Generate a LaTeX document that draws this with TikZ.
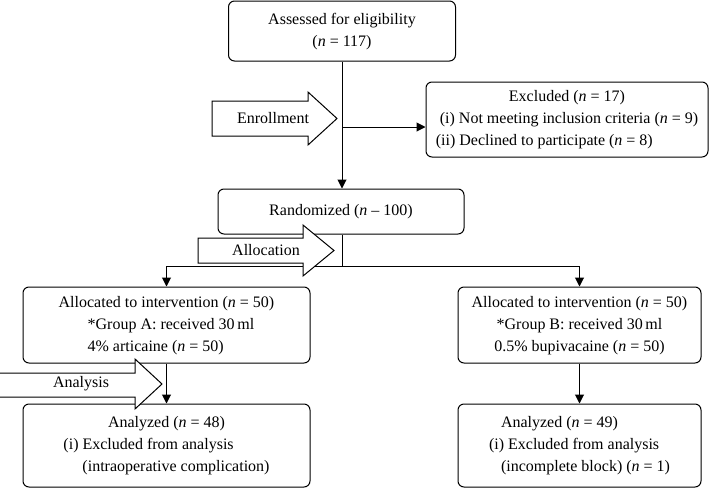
\documentclass[tikz,border=0pt]{standalone}
\usepackage{fontspec}
\setmainfont{Liberation Serif}
\usetikzlibrary{arrows.meta}
\tikzset{
  box/.style={draw, line width=1pt, rounded corners=6pt, inner sep=0pt, fill=white,
    font=\fontsize{16}{22}\selectfont},
  conn/.style={line width=1pt},
  arr/.style={line width=1pt, -{Triangle[length=9pt,width=9pt]}},
  bigarrow/.style={draw, line width=1pt, fill=white, line join=miter},
  arrowlabel/.style={font=\fontsize{16}{22}\selectfont, inner sep=0pt},
}
\begin{document}
\begin{tikzpicture}[x=1pt,y=-1pt]
\useasboundingbox (0,0) rectangle (710,488);

% boxes
\node[box, minimum width=227pt, minimum height=60pt] (assess) at (342,31)
  {\begin{tabular}{@{}c@{}}Assessed for eligibility\\(\textit{n} = 117)\end{tabular}};
\node[box, minimum width=282pt, minimum height=75pt] (excl) at (567,119.5)
  {\begin{tabular}{@{}l@{}}\multicolumn{1}{@{}c@{}}{Excluded (\textit{n} = 17)}\\
   \hspace*{4pt}(i) Not meeting inclusion criteria (\textit{n} = 9)\\
   (ii) Declined to participate (\textit{n} = 8)\end{tabular}};
\node[box, minimum width=246pt, minimum height=45pt] (rand) at (341,211.5)
  {\begin{tabular}{@{}c@{}}Randomized (\textit{n} – 100)\end{tabular}};
\node[box, minimum width=287pt, minimum height=76pt] (allocA) at (166.5,325)
  {\begin{tabular}{@{}l@{}}Allocated to intervention (\textit{n} = 50)\\
   \hspace*{29pt}{*}Group A: received 30\,ml\\
   \hspace*{29pt}4\% articaine (\textit{n} = 50)\end{tabular}};
\node[box, minimum width=243pt, minimum height=76pt] (allocB) at (579.5,325)
  {\begin{tabular}{@{}c@{}}Allocated to intervention (\textit{n} = 50)\\
   {*}Group B: received 30\,ml\\
   0.5\% bupivacaine (\textit{n} = 50)\end{tabular}};
\node[box, minimum width=287pt, minimum height=83pt] (anaA) at (166.5,445.5)
  {\begin{tabular}{@{}l@{}}\multicolumn{1}{@{}c@{}}{Analyzed (\textit{n} = 48)}\\
   (i) Excluded from analysis\\
   \hspace*{19pt}(intraoperative complication)\end{tabular}};
\node[box, minimum width=243pt, minimum height=83pt] (anaB) at (579.5,445.5)
  {\begin{tabular}{@{}l@{}}\hspace*{12pt}Analyzed (\textit{n} = 49)\\
   (i) Excluded from analysis\\
   \hspace*{12pt}(incomplete block) (\textit{n} = 1)\end{tabular}};

% connectors
\coordinate (j1) at (342,127);
\coordinate (j2) at (342,266);
\coordinate (jA) at (166.5,266);
\coordinate (jB) at (579.5,266);
\draw[arr] (assess.south -| j1) -- (rand.north -| j1);
\draw[arr] (j1) -- (j1 -| excl.west);
\draw[conn] (rand.south -| j2) -- (j2);
\draw[conn] (jA) -- (jB);
\draw[arr] (jA) -- (allocA.north);
\draw[arr] (jB) -- (allocB.north);
\draw[arr] (allocA.south) -- (anaA.north);
\draw[arr] (allocB.south) -- (anaB.north);

% block arrows
\draw[bigarrow] (212,101) -- (308,101) -- (308,92) -- (337,118.5) -- (308,145) -- (308,136) -- (212,136) -- cycle;
\node[arrowlabel] (enroll) at (273,118) {Enrollment};
\draw[bigarrow] (198,238) -- (303,238) -- (303,225) -- (334,250.5) -- (303,276) -- (303,263) -- (198,263) -- cycle;
\node[arrowlabel] (alloc) at (266,250) {Allocation};
\draw[bigarrow] (-2,373) -- (135,373) -- (135,359) -- (162,384) -- (135,409) -- (135,397) -- (-2,397) -- cycle;
\node[arrowlabel] (analysis) at (81,384) {Analysis};
\end{tikzpicture}
\end{document}
